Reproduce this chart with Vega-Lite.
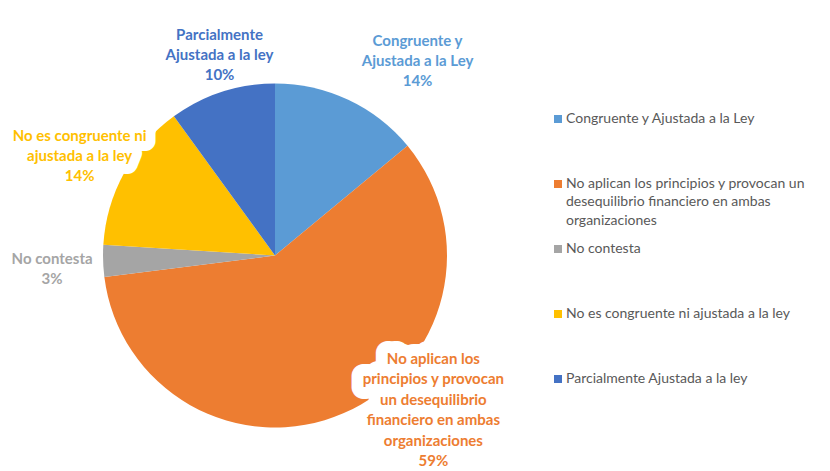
{
  "$schema": "https://vega.github.io/schema/vega-lite/v6.json",
  "width": 550,
  "height": 431,
  "autosize": {"type": "none"},
  "padding": {"left": 0, "top": 40, "right": 280, "bottom": 0},
  "background": "white",
  "config": {"view": {"stroke": null}},
  "data": {
    "values": [
      {"categoria": "Congruente y Ajustada a la Ley", "etiqueta": "Congruente y\nAjustada a la Ley\n14%", "porcentaje": 14},
      {"categoria": "No aplican los principios y provocan un desequilibrio financiero en ambas organizaciones", "etiqueta": "No aplican los\nprincipios y provocan\nun desequilibrio\nfinanciero en ambas\norganizaciones\n59%", "porcentaje": 59},
      {"categoria": "No contesta", "etiqueta": "No contesta\n3%", "porcentaje": 3},
      {"categoria": "No es congruente ni ajustada a la ley", "etiqueta": "No es congruente ni\najustada a la ley\n14%", "porcentaje": 14},
      {"categoria": "Parcialmente Ajustada a la ley", "etiqueta": "Parcialmente\nAjustada a la ley\n10%", "porcentaje": 10}
    ]
  },
  "encoding": {
    "theta": {"field": "porcentaje", "type": "quantitative", "stack": true},
    "color": {
      "field": "categoria",
      "type": "nominal",
      "scale": {
        "domain": [
          "Congruente y Ajustada a la Ley",
          "No aplican los principios y provocan un desequilibrio financiero en ambas organizaciones",
          "No contesta",
          "No es congruente ni ajustada a la ley",
          "Parcialmente Ajustada a la ley"
        ],
        "range": ["#5B9BD5", "#ED7D31", "#A5A5A5", "#FFC000", "#4472C4"]
      },
      "legend": {
        "title": null,
        "orient": "none",
        "legendX": 551,
        "legendY": 72,
        "padding": 0,
        "symbolType": "square",
        "symbolSize": 64,
        "symbolStrokeWidth": 0,
        "labelFont": "Lato",
        "labelFontSize": 14,
        "labelColor": "#595959",
        "labelLimit": 320,
        "labelOffset": 1,
        "gridAlign": "all",
        "rowPadding": 13,
        "labelBaseline": "top",
        "labelExpr": "datum.label == 'No aplican los principios y provocan un desequilibrio financiero en ambas organizaciones' ? ['No aplican los principios y provocan un', 'desequilibrio financiero en ambas', 'organizaciones'] : datum.label",
        "encode": {"labels": {"update": {"dy": {"value": -7.5}, "lineHeight": {"value": 18.5}}}}
      }
    }
  },
  "layer": [
    {"mark": {"type": "arc", "outerRadius": 172}},
    {
      "mark": {"type": "text", "radius": 215, "dx": 73, "dy": -94, "font": "Lato", "fontWeight": "bold", "fontSize": 15, "lineHeight": 20.5, "lineBreak": "\n", "align": "center", "baseline": "middle", "fill": "white", "stroke": "white", "strokeWidth": 24, "strokeJoin": "round"},
      "encoding": {"text": {"condition": {"test": "datum.categoria == 'No aplican los principios y provocan un desequilibrio financiero en ambas organizaciones'", "field": "etiqueta"}, "value": ""}, "color": {"value": "white"}}
    },
    {
      "mark": {"type": "text", "radius": 215, "dx": -7, "dy": -16, "font": "Lato", "fontWeight": "bold", "fontSize": 15, "lineHeight": 20, "lineBreak": "\n", "align": "center", "baseline": "middle", "fill": "white", "stroke": "white", "strokeWidth": 20, "strokeJoin": "round"},
      "encoding": {"text": {"condition": {"test": "datum.categoria == 'No es congruente ni ajustada a la ley'", "field": "etiqueta"}, "value": ""}, "color": {"value": "white"}}
    },
    {
      "mark": {"type": "text", "radius": 215, "dx": 51, "dy": -20, "font": "Lato", "fontWeight": "bold", "fontSize": 15, "lineHeight": 20, "lineBreak": "\n", "align": "center", "baseline": "middle"},
      "encoding": {"text": {"condition": {"test": "datum.categoria == 'Congruente y Ajustada a la Ley'", "field": "etiqueta"}, "value": ""}}
    },
    {
      "mark": {"type": "text", "radius": 215, "dx": 73, "dy": -94, "font": "Lato", "fontWeight": "bold", "fontSize": 15, "lineHeight": 20.5, "lineBreak": "\n", "align": "center", "baseline": "middle"},
      "encoding": {"text": {"condition": {"test": "datum.categoria == 'No aplican los principios y provocan un desequilibrio financiero en ambas organizaciones'", "field": "etiqueta"}, "value": ""}}
    },
    {
      "mark": {"type": "text", "radius": 215, "dx": -8, "dy": -3, "font": "Lato", "fontWeight": "bold", "fontSize": 15, "lineHeight": 20, "lineBreak": "\n", "align": "center", "baseline": "middle"},
      "encoding": {"text": {"condition": {"test": "datum.categoria == 'No contesta'", "field": "etiqueta"}, "value": ""}}
    },
    {
      "mark": {"type": "text", "radius": 215, "dx": -7, "dy": -16, "font": "Lato", "fontWeight": "bold", "fontSize": 15, "lineHeight": 20, "lineBreak": "\n", "align": "center", "baseline": "middle"},
      "encoding": {"text": {"condition": {"test": "datum.categoria == 'No es congruente ni ajustada a la ley'", "field": "etiqueta"}, "value": ""}}
    },
    {
      "mark": {"type": "text", "radius": 215, "dx": 11, "dy": -16, "font": "Lato", "fontWeight": "bold", "fontSize": 15, "lineHeight": 20, "lineBreak": "\n", "align": "center", "baseline": "middle"},
      "encoding": {"text": {"condition": {"test": "datum.categoria == 'Parcialmente Ajustada a la ley'", "field": "etiqueta"}, "value": ""}}
    }
  ]
}
